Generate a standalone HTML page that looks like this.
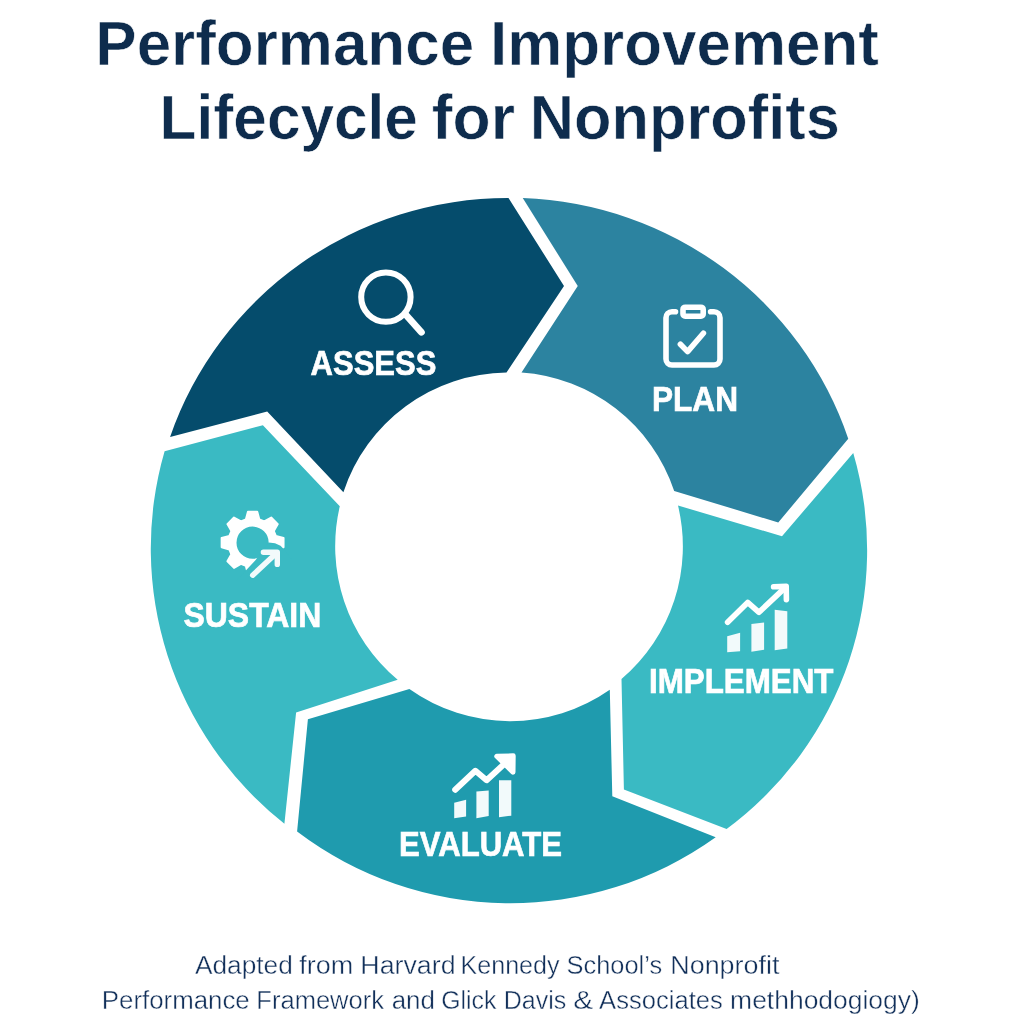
<!DOCTYPE html>
<html lang="en"><head><meta charset="utf-8"><title>Performance Improvement Lifecycle for Nonprofits</title>
<style>
html,body{margin:0;padding:0;background:#fff;}
body{width:1024px;height:1024px;overflow:hidden;}
svg{display:block;}
text{font-family:"Liberation Sans",sans-serif;}
.title{font-weight:bold;font-size:63.8px;fill:#0e2c4d;stroke:#fff;stroke-width:0.6px;}
.lbl{font-weight:bold;font-size:34.5px;fill:#fff;stroke:#fff;stroke-width:0.7px;}
.foot{font-size:26px;fill:#12305a;stroke:#fff;stroke-width:0.4px;}
</style></head><body>
<svg width="1024" height="1024" viewBox="0 0 1024 1024">
<rect width="1024" height="1024" fill="#ffffff"/>
<text class="title" y="64.5"><tspan x="95.35" textLength="378.75" lengthAdjust="spacingAndGlyphs">Performance</tspan> <tspan x="489.95" textLength="389.03" lengthAdjust="spacingAndGlyphs">Improvement</tspan></text>
<text class="title" y="139.2"><tspan x="159.61" textLength="258.29" lengthAdjust="spacingAndGlyphs">Lifecycle</tspan> <tspan x="431.73" textLength="83.24" lengthAdjust="spacingAndGlyphs">for</tspan> <tspan x="529.79" textLength="309.98" lengthAdjust="spacingAndGlyphs">Nonprofits</tspan></text>
<g>
<path d="M170.10,436.90 A357,353 0 0 1 508.50,198.00 L564.00,286.00 L506.50,372.50 A174,174 0 0 0 343.40,492.20 L267.20,411.50 Z" fill="#054c6c"/>
<path d="M522.75,198.00 A357,353 0 0 1 848.25,438.75 L778.25,522.50 L674.20,490.90 A174,174 0 0 0 521.50,372.50 L577.75,286.00 Z" fill="#2c83a0"/>
<path d="M853.25,453.00 A347,347 0 0 1 726.60,829.10 L623.90,789.40 L621.50,679.00 A174,174 0 0 0 678.00,505.50 L782.00,536.25 Z" fill="#3abac3"/>
<path d="M715.70,837.30 A353,353 0 0 1 297.10,831.60 L307.90,719.30 L409.40,689.00 A174,174 0 0 0 609.80,689.80 L612.30,796.25 Z" fill="#1f9bae"/>
<path d="M284.40,823.80 A357,353 0 0 1 164.60,451.20 L262.90,425.20 L339.80,506.25 A174,174 0 0 0 397.70,679.70 L296.10,712.50 Z" fill="#3abac3"/>
</g>
<!-- ASSESS -->
<g fill="none" stroke="#fff" stroke-width="6" stroke-linecap="round">
<circle cx="385.9" cy="297.1" r="24.7"/>
<path d="M405.6,314.6 L421.4,332.2" stroke-width="6.8"/>
</g>
<text class="lbl" x="310.6" y="375.0" textLength="125.8" lengthAdjust="spacingAndGlyphs">ASSESS</text>
<!-- PLAN -->
<g fill="none" stroke="#fff" stroke-width="5.6" stroke-linecap="round" stroke-linejoin="round">
<path d="M675.5,311.8 H672 a6,6 0 0 0 -6,6 V359 a6,6 0 0 0 6,6 H714 a6,6 0 0 0 6,-6 V317.8 a6,6 0 0 0 -6,-6 H710.6"/>
<rect x="683" y="307.2" width="20.2" height="9" rx="2.2"/>
<path d="M680.4,344.2 L687.6,351.6 L703.4,333.2" stroke-width="5.6"/>
</g>
<text class="lbl" x="652" y="410.8" textLength="86" lengthAdjust="spacingAndGlyphs">PLAN</text>
<!-- IMPLEMENT -->
<g fill="#f2fafb">
<polygon points="727.2,636.3 740.1,632.8 740.1,651.3 727.2,652.3"/>
<polygon points="751.4,624 764.1,622.6 764.1,649.8 751.4,651.7"/>
<polygon points="774.7,609.8 787.3,611.3 787.3,648.6 774.7,650.2"/>
</g>
<g fill="none" stroke="#fff" stroke-width="5.6" stroke-linecap="round" stroke-linejoin="round">
<path d="M727.6,622.2 L747.7,602.4 L759,612.3 L785.4,587.4"/>
<path d="M773.6,586.8 L786.2,586.4 L786.4,599.6"/>
</g>
<text class="lbl" x="649" y="693.3" textLength="184.5" lengthAdjust="spacingAndGlyphs">IMPLEMENT</text>
<!-- EVALUATE -->
<g fill="#f2fafb">
<polygon points="454.2,802.8 466.1,799.7 466.1,816.5 454.2,818.2"/>
<polygon points="476.4,791.5 488.7,790.5 488.7,816.1 476.4,818.2"/>
<polygon points="499,780.2 511.3,780.2 511.3,815.7 499,817.2"/>
</g>
<g fill="none" stroke="#fff" stroke-width="6" stroke-linecap="round" stroke-linejoin="round">
<path d="M455.2,789.8 L475.4,770.8 L486.6,780.2 L508,760.5"/>
<path d="M496.8,756.2 L513.2,755.8 L513,772.2 Z" fill="#fff" stroke-width="5"/>
</g>
<text class="lbl" x="399" y="855.6" textLength="163" lengthAdjust="spacingAndGlyphs">EVALUATE</text>
<!-- SUSTAIN -->
<path d="M245.85,519.46 L247.95,511.75 L257.25,511.75 L259.35,519.46 L264.26,521.49 L271.20,517.52 L277.78,524.10 L273.81,531.04 L275.84,535.95 L283.55,538.05 L283.55,547.35 L275.84,549.45 L273.81,554.36 L277.78,561.30 L271.20,567.88 L264.26,563.91 L259.35,565.94 L257.25,573.65 L247.95,573.65 L245.85,565.94 L240.94,563.91 L234.00,567.88 L227.42,561.30 L231.39,554.36 L229.36,549.45 L221.65,547.35 L221.65,538.05 L229.36,535.95 L231.39,531.04 L227.42,524.10 L234.00,517.52 L240.94,521.49Z M269.70,542.70 A17.1,17.1 0 1 0 235.50,542.70 A17.1,17.1 0 1 0 269.70,542.70Z" fill="#fff" fill-rule="evenodd" stroke="#fff" stroke-width="2" stroke-linejoin="round"/>
<polygon points="236,581 255.9,559.8 262,551 268.7,542.4 275,543.3 280.5,545.8 283.2,548.6 286.5,552.5 292,560 292,600 236,600" fill="#3abac3"/>
<g fill="none" stroke="#f2fafb" stroke-width="5.4" stroke-linecap="round" stroke-linejoin="round">
<path d="M252.7,575.2 L276.8,552.8"/>
<path d="M263.4,552.3 L277.3,552.2 L277.3,564.4"/>
</g>
<text class="lbl" x="183.5" y="626.8" textLength="137.8" lengthAdjust="spacingAndGlyphs">SUSTAIN</text>
<!-- footer -->
<text class="foot" y="973.8"><tspan x="194.94" textLength="97.93" lengthAdjust="spacingAndGlyphs">Adapted</tspan> <tspan x="299.39" textLength="53.98" lengthAdjust="spacingAndGlyphs">from</tspan> <tspan x="360.32" textLength="95.28" lengthAdjust="spacingAndGlyphs">Harvard</tspan> <tspan x="460.50" textLength="99.09" lengthAdjust="spacingAndGlyphs">Kennedy</tspan> <tspan x="566.55" textLength="95.56" lengthAdjust="spacingAndGlyphs">School’s</tspan> <tspan x="670.30" textLength="109.09" lengthAdjust="spacingAndGlyphs">Nonprofit</tspan></text>
<text class="foot" y="1008.6"><tspan x="101.79" textLength="147.92" lengthAdjust="spacingAndGlyphs">Performance</tspan> <tspan x="256.36" textLength="127.66" lengthAdjust="spacingAndGlyphs">Framework</tspan> <tspan x="391.65" textLength="43.31" lengthAdjust="spacingAndGlyphs">and</tspan> <tspan x="441.20" textLength="55.27" lengthAdjust="spacingAndGlyphs">Glick</tspan> <tspan x="503.72" textLength="62.57" lengthAdjust="spacingAndGlyphs">Davis</tspan> <tspan x="573.33" textLength="20.07" lengthAdjust="spacingAndGlyphs">&amp;</tspan> <tspan x="599.11" textLength="123.71" lengthAdjust="spacingAndGlyphs">Associates</tspan> <tspan x="730.14" textLength="189.72" lengthAdjust="spacingAndGlyphs">methhodogiogy)</tspan></text>
</svg>
</body></html>
